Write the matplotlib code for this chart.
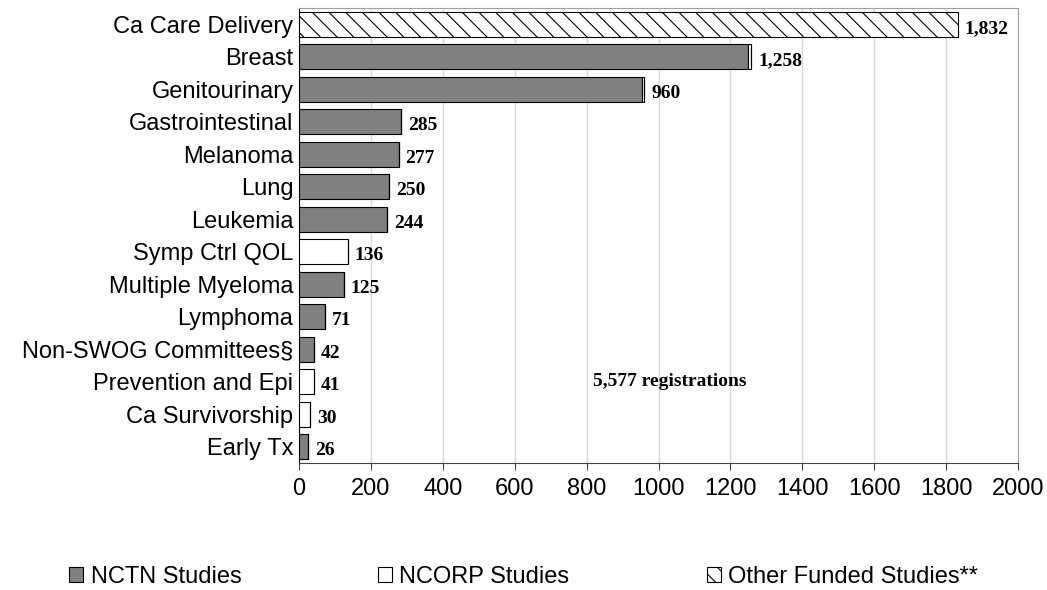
import numpy as np
import matplotlib.pyplot as plt
from matplotlib.patches import Patch

plt.rcParams['hatch.linewidth'] = 0.8

categories = ["Ca Care Delivery", "Breast", "Genitourinary", "Gastrointestinal",
              "Melanoma", "Lung", "Leukemia", "Symp Ctrl QOL", "Multiple Myeloma",
              "Lymphoma", "Non-SWOG Committees\u00a7", "Prevention and Epi",
              "Ca Survivorship", "Early Tx"]
nctn = [0, 1248, 953, 285, 277, 250, 244, 0, 125, 71, 42, 0, 0, 26]
ncorp = [0, 10, 7, 0, 0, 0, 0, 136, 0, 0, 0, 41, 30, 0]
other = [1832, 0, 0, 0, 0, 0, 0, 0, 0, 0, 0, 0, 0, 0]
total_label = "5,577 registrations"

nctn = np.array(nctn)
ncorp = np.array(ncorp)
other = np.array(other)
totals = nctn + ncorp + other
y = np.arange(len(categories))

fig = plt.figure(figsize=(10.47, 5.9), dpi=100)
ax = fig.add_axes([0.2856, 0.2153, 0.9723 - 0.2856, 0.9864 - 0.2153])

h = 0.77
ax.barh(y, nctn, height=h, color="#808080", edgecolor="black", linewidth=0.8, zorder=3)
ax.barh(y, ncorp, height=h, left=nctn, color="white", edgecolor="black", linewidth=0.8, zorder=3)
ax.barh(y, other, height=h, left=nctn + ncorp, color="white", edgecolor="black",
        hatch="\\\\", linewidth=0.8, zorder=3)

for yi, t in zip(y, totals):
    ax.annotate(f"{t:,}", (t, yi), xytext=(5, -3), textcoords="offset points",
                ha="left", va="center", fontsize=14, fontweight="bold",
                family="Liberation Serif")

ax.text(1030, 11, total_label, ha="center", va="center", fontsize=14,
        fontweight="bold", family="Liberation Serif")

ax.set_ylim(len(categories) - 0.5, -0.5)
ax.set_xlim(0, 2000)
ax.set_xticks(np.arange(0, 2001, 200))
ax.set_yticks(y)
ax.set_yticklabels(categories, fontsize=17, family="Liberation Sans")
for lbl in ax.get_xticklabels():
    lbl.set_family("Liberation Sans")
    lbl.set_fontsize(17)
ax.tick_params(axis="y", length=0, pad=4)
ax.tick_params(axis="x", length=5, color="#404040", pad=6)
ax.grid(axis="x", color="#d9d9d9", linewidth=1, zorder=0)

ax.spines["left"].set_color("black")
ax.spines["bottom"].set_color("#404040")
ax.spines["top"].set_color("#a0a0a0")
ax.spines["right"].set_color("#a0a0a0")

handles = [Patch(facecolor="#808080", edgecolor="black", linewidth=0.8),
           Patch(facecolor="white", edgecolor="black", linewidth=0.8),
           Patch(facecolor="white", edgecolor="black", linewidth=0.8, hatch="\\\\")]
fig.legend(handles, ["NCTN Studies", "NCORP Studies", "Other Funded Studies**"],
           loc="center", bbox_to_anchor=(0.5, 0.022), ncol=3, frameon=False,
           prop={"family": "Liberation Sans", "size": 17},
           handlelength=0.6, handleheight=0.6, handletextpad=0.3,
           columnspacing=5.8)

fig.savefig("out.png", dpi=100)
